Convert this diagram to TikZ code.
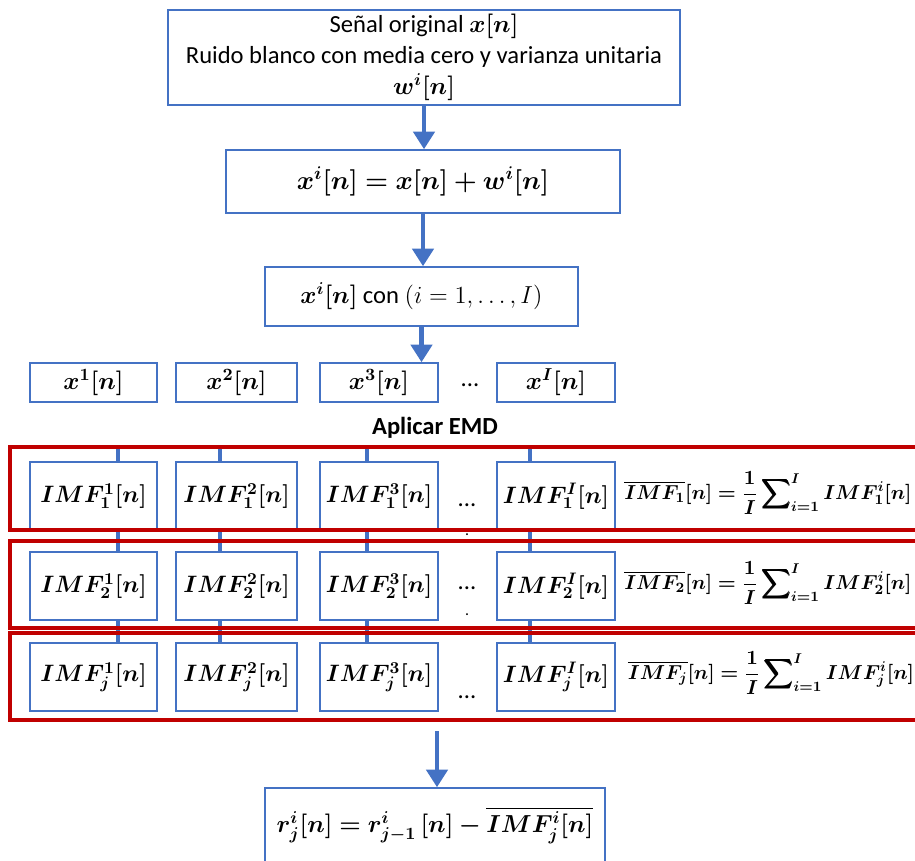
\RequirePackage{fix-cm}
\documentclass[tikz,border=0pt]{standalone}
\usepackage{amsmath, amssymb}
\usepackage{bm}
\usepackage[no-math]{fontspec}
\setmainfont{Carlito}
\usepackage{xcolor}
\usetikzlibrary{arrows.meta, positioning}
\definecolor{boxblue}{RGB}{68,114,196}
\definecolor{bandred}{RGB}{192,0,0}
\begin{document}
\begin{tikzpicture}[x=0.02cm, y=-0.02cm, font=\fontsize{14}{17.6}\selectfont,
    blk/.style={draw=boxblue, fill=white, line width=0.9pt, inner sep=0pt, align=center},
    arr/.style={boxblue, line width=2.4pt, -{Triangle[length=10pt,width=12pt]}},
    link/.style={boxblue, line width=2.6pt},
    band/.style={draw=bandred, line width=1.8pt},
    imfbox/.style={blk, minimum height=1.36cm, font=\fontsize{13.5}{16}\selectfont},
    meanf/.style={font=\fontsize{11.5}{14}\selectfont}]
  \useasboundingbox (0,0) rectangle (915,860);
  \clip (0,0) rectangle (915,860);
  % input blocks
  \node[blk, minimum width=10.24cm, minimum height=1.9cm] (orig) at (424,57.5)
    {Señal original $\bm{x[n]}$\\ Ruido blanco con media cero y varianza unitaria\\ $\bm{w^i[n]}$};
  \node[blk, minimum width=7.88cm, minimum height=1.26cm, font=\fontsize{15}{18}\selectfont] (noisy) at (423,181.5)
    {$\bm{x^i[n] = x[n] + w^i[n]}$};
  \node[blk, minimum width=6.26cm, minimum height=1.18cm] (reals) at (421.5,296.5)
    {$\bm{x^i[n]}$ con $(i = 1, \dots, I)$};
  \draw[arr] (orig.south) -- (orig.south |- noisy.north);
  \draw[arr] (noisy.south) -- (noisy.south |- reals.north);
  % realizations
  \foreach \cc/\cx/\cw/\cs in {1/93.5/2.54/1, 2/236.5/2.42/2, 3/379/2.36/3, 4/556/2.36/I} {
    \node[blk, minimum width=\cw cm, minimum height=0.78cm] (x\cc) at (\cx,382.5) {$\bm{x^{\cs}[n]}$};
  }
  \node (xdots) at (470,385) {...};
  \draw[arr] (reals.south) -- (reals.south |- x3.north);
  \node[font=\fontsize{14}{16}\selectfont\bfseries] (emd) at (435,428) {Aplicar EMD};
  % IMF rows
  \foreach \cc/\cx/\cw/\cs in {1/93.5/2.54/1, 2/236.5/2.42/2, 3/379/2.36/3, 4/556/2.36/I} {
    \node[imfbox, minimum width=\cw cm] (imfa\cc) at (\cx,496) {$\bm{IMF^{\cs}_{1}[n]}$};
  }
  \foreach \cc/\cx/\cw/\cs in {1/93.5/2.54/1, 2/236.5/2.42/2, 3/379/2.36/3, 4/556/2.36/I} {
    \node[imfbox, minimum width=\cw cm] (imfb\cc) at (\cx,586) {$\bm{IMF^{\cs}_{2}[n]}$};
  }
  \foreach \cc/\cx/\cw/\cs in {1/93.5/2.54/1, 2/236.5/2.42/2, 3/379/2.36/3, 4/556/2.36/I} {
    \node[imfbox, minimum width=\cw cm] (imfc\cc) at (\cx,677) {$\bm{IMF^{\cs}_{j}[n]}$};
  }
  \node (dots1) at (467,505) {...};
  \node (dots2) at (467,588) {...};
  \node (dots3) at (467,697) {...};
  \node[font=\small] (vdot1) at (467,535) {.};
  \node[font=\small] (vdot2) at (467,615) {.};
  % links between rows
  \foreach \cc/\lx in {1/118, 2/220, 3/367, 4/530} {
    \coordinate (ltop\cc) at (\lx,447);
    \draw[link] (ltop\cc) -- (ltop\cc |- imfa\cc.north);
    \draw[link] (ltop\cc |- imfa\cc.south) -- (ltop\cc |- imfb\cc.north);
    \draw[link] (ltop\cc |- imfb\cc.south) -- (ltop\cc |- imfc\cc.north);
  }
  % bands
  \draw[band] (10,447) rectangle (930,530);
  \draw[band] (10,541) rectangle (930,628);
  \draw[band] (10,633) rectangle (930,720);
  % mean IMFs
  \node[meanf] (mean1) at (768,493)
    {$\bm{\overline{IMF_1}[n] = \dfrac{1}{I}\displaystyle\sum\nolimits_{i=1}^{I} IMF^i_1[n]}$};
  \node[meanf] (mean2) at (768,583)
    {$\bm{\overline{IMF_2}[n] = \dfrac{1}{I}\displaystyle\sum\nolimits_{i=1}^{I} IMF^i_2[n]}$};
  \node[meanf] (mean3) at (771,673)
    {$\bm{\overline{IMF_j}[n] = \dfrac{1}{I}\displaystyle\sum\nolimits_{i=1}^{I} IMF^i_j[n]}$};
  % residue
  \coordinate (bandout) at (437,731);
  \node[blk, minimum width=6.8cm, minimum height=1.48cm] (resid) at (435,825)
    {$\bm{r^i_j[n] = r^i_{j-1}\,[n] - \overline{IMF^i_j[n]}}$};
  \draw[arr] (bandout) -- (bandout |- resid.north);
\end{tikzpicture}
\end{document}
